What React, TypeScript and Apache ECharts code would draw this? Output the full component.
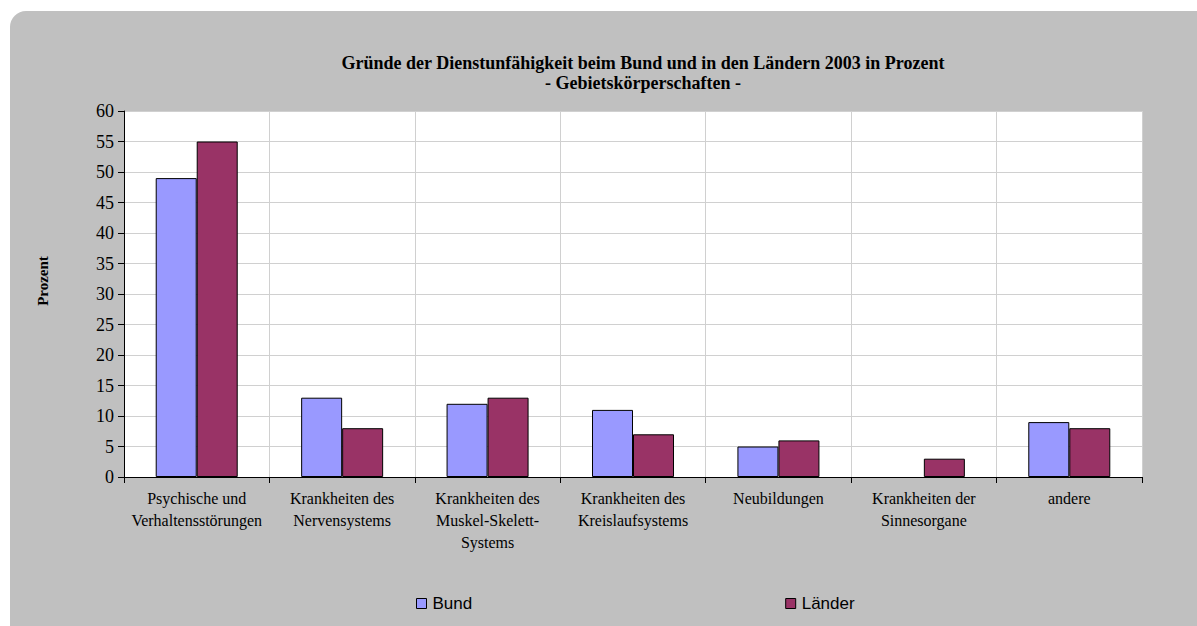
import React, { useEffect, useRef } from "react";
import * as echarts from "echarts";

const categories = [
  "Psychische und\nVerhaltensstörungen",
  "Krankheiten des\nNervensystems",
  "Krankheiten des\nMuskel-Skelett-\nSystems",
  "Krankheiten des\nKreislaufsystems",
  "Neubildungen",
  "Krankheiten der\nSinnesorgane",
  "andere",
];
const bund = [49, 13, 12, 11, 5, null, 9];
const laender = [55, 8, 13, 7, 6, 3, 8];
const titleLines = [
  "Gründe der Dienstunfähigkeit beim Bund und in den Ländern 2003 in Prozent",
  "- Gebietskörperschaften -",
];
const yAxisName = "Prozent";

const SERIF = '"Liberation Serif", "DejaVu Serif", serif';
const SANS = '"Liberation Sans", Arial, sans-serif';

export default function App() {
  const ref = useRef<HTMLDivElement>(null);
  useEffect(() => {
    if (!ref.current) return;
    const chart = echarts.init(ref.current, null, { renderer: "svg" });
    chart.setOption({
      animation: false,
      backgroundColor: "#ffffff",
      graphic: [
        {
          type: "rect",
          z: -10,
          shape: { x: 10, y: 11, width: 1210, height: 640, r: 16 },
          style: { fill: "#c0c0c0" },
          silent: true,
        },
        {
          type: "rect",
          z: -9,
          shape: { x: 124, y: 111, width: 1018, height: 366 },
          style: { fill: "#ffffff" },
          silent: true,
        },
        {
          type: "text",
          x: 43,
          y: 281,
          rotation: Math.PI / 2,
          style: {
            text: yAxisName,
            fontFamily: SERIF,
            fontWeight: "bold",
            fontSize: 15,
            fill: "#000",
            align: "center",
            verticalAlign: "middle",
          },
          silent: true,
        },
      ],
      title: {
        text: titleLines.join("\n"),
        left: 638,
        textAlign: "center",
        top: 48,
        textStyle: {
          fontFamily: SERIF,
          fontWeight: "bold",
          fontSize: 18,
          lineHeight: 20,
          color: "#000",
        },
      },
      legend: {
        top: 590,
        left: 411,
        itemGap: 313,
        itemWidth: 10,
        itemHeight: 10,
        icon: "rect",
        textStyle: { fontFamily: SANS, fontSize: 17, color: "#000", padding: [0, 0, 0, 1] },
        data: [
          { name: "Bund", itemStyle: { borderColor: "#000", borderWidth: 1 } },
          { name: "Länder", itemStyle: { borderColor: "#000", borderWidth: 1 } },
        ],
      },
      grid: { left: 124, top: 111, width: 1018, height: 366, containLabel: false },
      xAxis: {
        type: "category",
        data: categories,
        axisLine: { lineStyle: { color: "#000", width: 1 } },
        axisTick: { show: true, length: 6, lineStyle: { color: "#000" } },
        splitLine: { show: true, lineStyle: { color: "#d0d0d0", width: 1 } },
        axisLabel: {
          fontFamily: SERIF,
          fontSize: 16,
          lineHeight: 22,
          color: "#000",
          margin: 10,
          interval: 0,
        },
      },
      yAxis: {
        type: "value",
        min: 0,
        max: 60,
        interval: 5,
        axisLine: { show: true, lineStyle: { color: "#000", width: 1 } },
        axisTick: { show: true, length: 6, lineStyle: { color: "#000" } },
        splitLine: { show: true, lineStyle: { color: "#d0d0d0", width: 1 } },
        axisLabel: { fontFamily: SERIF, fontSize: 18, color: "#000", margin: 10 },
      },
      series: [
        {
          name: "Bund",
          type: "bar",
          data: bund,
          barWidth: 41,
          barGap: "0%",
          itemStyle: { color: "#9999ff", borderColor: "#000", borderWidth: 1 },
        },
        {
          name: "Länder",
          type: "bar",
          data: laender,
          barWidth: 41,
          barGap: "0%",
          itemStyle: { color: "#993366", borderColor: "#000", borderWidth: 1 },
        },
      ],
    });
    return () => chart.dispose();
  }, []);
  return (
    <div
      ref={ref}
      style={{ position: "absolute", left: 0, top: 0, width: 1197, height: 626 }}
    />
  );
}
